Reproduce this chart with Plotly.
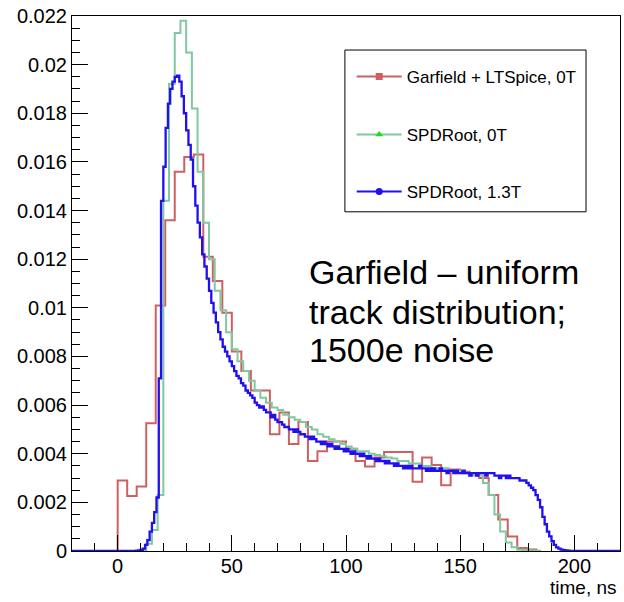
import plotly.graph_objects as go

# ---------------- data ----------------
# Garfield + LTSpice, 0T : bin width 250/60 ns, first bin starts at 0 ns
red_start = 0.0
red_width = 250.0 / 60.0
red_values = [0.0029, 0.00226, 0.00265, 0.00525, 0.0101, 0.0136, 0.0156, 0.0162, 0.0163, 0.0121,
              0.0111, 0.0098, 0.0082, 0.0074, 0.0066, 0.0066, 0.0048, 0.0057, 0.0044, 0.0053,
              0.0037, 0.0041, 0.0045, 0.0045, 0.0042, 0.0037, 0.00347, 0.00385, 0.00407, 0.00407,
              0.00407, 0.00285, 0.00385, 0.00354, 0.0027, 0.00335, 0.00326, 0.0032, 0.0030, 0.0023,
              0.0013, 0.0006, 0.00012, 0.00006]

# SPDRoot, 0T : bin width 2.5 ns, first bin starts at 10 ns
green_start = 10.0
green_width = 2.5
green_values = [0.00003, 0.0003, 0.00086, 0.0023, 0.0144, 0.0192, 0.0213, 0.0218, 0.0205, 0.0182,
                0.0156, 0.0135, 0.0120, 0.0107, 0.0099, 0.0090, 0.0083, 0.0078, 0.0074, 0.0070,
                0.0066, 0.0063, 0.0061, 0.0059, 0.0058, 0.0056, 0.0055, 0.0054, 0.0053, 0.0051,
                0.0050, 0.0048, 0.0047, 0.0046, 0.0045, 0.0044, 0.0043, 0.0042, 0.0041, 0.0041,
                0.0040, 0.00395, 0.0039, 0.00385, 0.0038, 0.0037, 0.0037, 0.0036, 0.0036, 0.0035,
                0.0035, 0.0034, 0.0034, 0.0034, 0.0033, 0.0033, 0.0032, 0.0032, 0.0031, 0.0031,
                0.0028, 0.0023, 0.0015, 0.0008, 0.00035, 0.00015, 0.00005, 0.00003, 0.00002, 0.00001]

# SPDRoot, 1.3T : bin width 1 ns, first bin starts at 8 ns
blue_start = 8.0
blue_width = 1.0
blue_values = [0.00001, 0.00002, 0.00005, 0.0001, 0.00025, 0.00045, 0.0008, 0.00116, 0.0016, 0.0022,
               0.0071, 0.0144, 0.0158, 0.0174, 0.0184, 0.0190, 0.0193, 0.0195, 0.01955, 0.0193,
               0.0187, 0.0180, 0.0173, 0.0167, 0.0161, 0.0150, 0.0142, 0.0135, 0.0129, 0.0122,
               0.0117, 0.0112, 0.0107, 0.0102, 0.0098, 0.0094, 0.0090, 0.0087, 0.0084, 0.0082,
               0.0080, 0.0078, 0.0076, 0.0074, 0.0072, 0.0071, 0.0069, 0.0068, 0.0066, 0.0065,
               0.0064, 0.0063, 0.0061, 0.0060, 0.0059, 0.00595, 0.0058, 0.0057, 0.0057, 0.0055,
               0.0056, 0.0054, 0.0053, 0.0053, 0.0052, 0.0051, 0.0051, 0.0050, 0.0050, 0.0049,
               0.0050, 0.0049, 0.0048, 0.0048, 0.0047, 0.0047, 0.0046, 0.0047, 0.0046, 0.0045,
               0.0045, 0.0044, 0.0045, 0.0044, 0.0043, 0.0044, 0.0043, 0.0042, 0.0043, 0.0042,
               0.0042, 0.0041, 0.0042, 0.0041, 0.0040, 0.0041, 0.0040, 0.0040, 0.0039, 0.0040,
               0.0039, 0.0038, 0.0039, 0.0038, 0.0038, 0.0037, 0.0038, 0.0037, 0.0037, 0.0036,
               0.0037, 0.0036, 0.0036, 0.0035, 0.0036, 0.0035, 0.0035, 0.0034, 0.0035, 0.0034,
               0.0035, 0.0034, 0.0034, 0.0034, 0.0035, 0.0034, 0.0034, 0.0033, 0.0034, 0.0033,
               0.0034, 0.0033, 0.0033, 0.0034, 0.0033, 0.0033, 0.0032, 0.0033, 0.0033, 0.0032,
               0.0033, 0.0032, 0.0032, 0.0033, 0.0032, 0.0032, 0.0031, 0.0032, 0.0032, 0.0031,
               0.0032, 0.0032, 0.0032, 0.0031, 0.0032, 0.0032, 0.0032, 0.0031, 0.0031, 0.0030,
               0.0031, 0.0031, 0.0030, 0.0031, 0.0030, 0.0030, 0.0030, 0.0030, 0.0029, 0.0029,
               0.0029, 0.0028, 0.0027, 0.0026, 0.0025, 0.0023, 0.0021, 0.0018, 0.0014, 0.0011,
               0.0008, 0.0006, 0.0004, 0.00025, 0.00015, 0.0001, 0.00006, 0.00004, 0.00002, 0.00001]

series_names = ["Garfield + LTSpice, 0T", "SPDRoot, 0T", "SPDRoot, 1.3T"]

x_range = [-20, 220]
y_range = [0, 0.022]
y_tick_vals = [0, 0.002, 0.004, 0.006, 0.008, 0.01, 0.012, 0.014, 0.016, 0.018, 0.02, 0.022]
y_tick_text = ["0", "0.002", "0.004", "0.006", "0.008", "0.01", "0.012", "0.014", "0.016", "0.018", "0.02", "0.022"]
x_tick_vals = [0, 50, 100, 150, 200]
x_tick_text = ["0", "50", "100", "150", "200"]

note_lines = ["Garfield \u2013 uniform", "track distribution;", "1500e noise"]
x_title = "time, ns"

# ---------------- styles ----------------
RED = "#d06060"
GREEN = "#80c8a0"
GREEN_MARK = "#22dd22"
BLUE = "#2010f0"
FONT = "Liberation Sans, Arial, Helvetica, sans-serif"


def step_path(start, width, values, pad_left=None, pad_right=None):
    edges = [start + i * width for i in range(len(values) + 1)]
    xs = [edges[0], edges[0]] + edges[1:len(values)] + [edges[-1]]
    ys = [0.0] + list(values) + [0.0]
    if pad_left is not None:
        xs = [pad_left] + xs
        ys = [0.0] + ys
    if pad_right is not None:
        xs = xs + [pad_right]
        ys = ys + [0.0]
    return xs, ys


fig = go.Figure()

rx, ry = step_path(red_start, red_width, red_values)
gx, gy = step_path(green_start, green_width, green_values)
bx, by = step_path(blue_start, blue_width, blue_values, pad_left=x_range[0], pad_right=x_range[1])

fig.add_trace(go.Scatter(x=rx, y=ry, mode="lines", line=dict(color=RED, width=2, shape="hv"),
                         showlegend=False, hoverinfo="skip"))
fig.add_trace(go.Scatter(x=gx, y=gy, mode="lines", line=dict(color=GREEN, width=2, shape="hv"),
                         showlegend=False, hoverinfo="skip"))
fig.add_trace(go.Scatter(x=bx, y=by, mode="lines", line=dict(color=BLUE, width=2.3, shape="hv"),
                         showlegend=False, hoverinfo="skip"))

# legend-only entries (line + marker, as in the ROOT legend), one legend per entry
legend_styles = [
    (RED, RED, "square"),
    (GREEN, GREEN_MARK, "triangle-up"),
    (BLUE, BLUE, "circle"),
]
legend_ids = ["legend", "legend2", "legend3"]
for name, (lc, mc, sym), lid in zip(series_names, legend_styles, legend_ids):
    fig.add_trace(go.Scatter(x=[None], y=[None], mode="lines+markers", name=name,
                             legend=lid,
                             line=dict(color=lc, width=2),
                             marker=dict(color=mc, symbol=sym, size=7)))

axis_common = dict(
    showline=True, linecolor="black", linewidth=1, mirror=True,
    ticks="inside", ticklen=16, tickwidth=1, tickcolor="black",
    showgrid=False, zeroline=False,
    tickfont=dict(family=FONT, size=20, color="black"),
)

fig.update_xaxes(range=x_range, tickmode="array", tickvals=x_tick_vals, ticktext=x_tick_text,
                 ticklabelstandoff=-3,
                 minor=dict(ticks="inside", ticklen=8, tickcolor="black", tick0=0, dtick=10, showgrid=False),
                 **axis_common)
fig.update_yaxes(range=y_range, tickmode="array", tickvals=y_tick_vals, ticktext=y_tick_text,
                 minor=dict(ticks="inside", ticklen=8, tickcolor="black", tick0=0, dtick=0.0005, showgrid=False),
                 **axis_common)

annotations = []
note_y = [0.5215, 0.4467, 0.3757]
for txt, yy in zip(note_lines, note_y):
    annotations.append(dict(text=txt, xref="paper", yref="paper", x=0.428, y=yy,
                            xanchor="left", yanchor="middle", showarrow=False,
                            font=dict(family=FONT, size=34, color="black")))
annotations.append(dict(text=x_title, xref="paper", yref="paper", x=0.998, y=-0.0915,
                        xanchor="right", yanchor="bottom", showarrow=False,
                        font=dict(family=FONT, size=19, color="black")))

legend_common = dict(xanchor="left", yanchor="middle", bgcolor="rgba(0,0,0,0)", borderwidth=0,
                     font=dict(family=FONT, size=17, color="black"), itemwidth=45)
legend_y = [0.886, 0.7775, 0.6712]

fig.update_layout(
    width=624, height=602,
    margin=dict(l=72, r=4, t=16, b=51),
    paper_bgcolor="white", plot_bgcolor="white",
    annotations=annotations,
    shapes=[dict(type="rect", xref="paper", yref="paper", x0=0.498, x1=0.938, y0=0.634, y1=0.9364,
                 line=dict(color="black", width=1), fillcolor="rgba(0,0,0,0)", layer="above")],
    legend=dict(x=0.5104, y=legend_y[0], **legend_common),
    legend2=dict(x=0.5104, y=legend_y[1], **legend_common),
    legend3=dict(x=0.5104, y=legend_y[2], **legend_common),
    font=dict(family=FONT),
)

fig.write_html("out.html")
